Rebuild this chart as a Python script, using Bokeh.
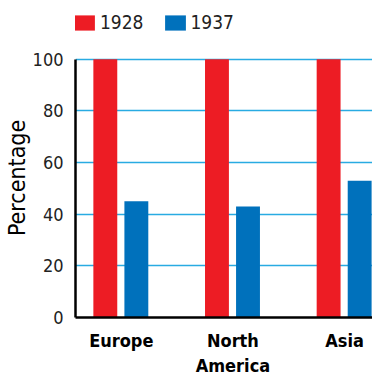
from bokeh.plotting import figure
from bokeh.models import ColumnDataSource, Range1d, FixedTicker, Legend, LegendItem
from bokeh.transform import dodge
from bokeh.embed import file_html
from bokeh.resources import INLINE

regions = ["Europe", "North\nAmerica", "Asia"]
years = ["1928", "1937"]
pct_1928 = [100, 100, 100]
pct_1937 = [45, 43, 53]
y_ticks = [0, 20, 40, 60, 80, 100]

idx = list(range(len(regions)))
src = ColumnDataSource(dict(x=idx, a=pct_1928, b=pct_1937))

FONT = "DejaVu Sans Condensed"

p = figure(width=372, height=378, output_backend="svg", toolbar_location=None,
           x_range=Range1d(-0.41, 2.25), y_range=Range1d(0, 100 + 55 / 2.64),
           min_border_left=0, min_border_right=0, min_border_top=5, min_border_bottom=54)
p.outline_line_color = None

r1 = p.vbar(x=dodge("x", -0.143, range=p.x_range), top="a", bottom=0, width=0.214,
            source=src, fill_color="#ED1C24", line_color=None)
r2 = p.vbar(x=dodge("x", 0.135, range=p.x_range), top="b", bottom=0, width=0.214,
            source=src, fill_color="#0071BC", line_color=None)

p.xgrid.visible = False
p.ygrid.grid_line_color = "#29ABE2"
p.ygrid.grid_line_width = 1.5
p.ygrid.ticker = FixedTicker(ticks=y_ticks)

p.yaxis.ticker = FixedTicker(ticks=y_ticks)
p.yaxis.bounds = (0, 100)
p.yaxis.axis_label = "Percentage" + "\u00a0" * 5
p.yaxis.axis_label_text_font = FONT
p.yaxis.axis_label_text_font_style = "normal"
p.yaxis.axis_label_text_font_size = "23px"
p.yaxis.axis_label_text_color = "black"
p.yaxis.axis_label_standoff = 0
p.yaxis.major_label_text_font = FONT
p.yaxis.major_label_text_font_size = "18px"
p.yaxis.major_label_text_color = "#222222"
p.yaxis.major_label_standoff = 6
p.yaxis.major_tick_line_color = None
p.yaxis.minor_tick_line_color = None
p.yaxis.axis_line_width = 2.5
p.yaxis.axis_line_color = "black"

p.xaxis.ticker = FixedTicker(ticks=idx)
p.xaxis.major_label_overrides = {i: r for i, r in zip(idx, regions)}
p.xaxis.major_label_text_font = FONT
p.xaxis.major_label_text_font_style = "bold"
p.xaxis.major_label_text_font_size = "18px"
p.xaxis.major_label_text_color = "black"
p.xaxis.major_label_standoff = 6
p.xaxis.major_tick_line_color = None
p.xaxis.minor_tick_line_color = None
p.xaxis.axis_line_width = 2.5
p.xaxis.axis_line_color = "black"

legend = Legend(items=[LegendItem(label=years[0], renderers=[r1]),
                       LegendItem(label=years[1], renderers=[r2])],
                orientation="horizontal", location=(-4, 284),
                glyph_width=26, glyph_height=19, label_standoff=3, spacing=18,
                padding=0, margin=0, border_line_color=None,
                background_fill_alpha=0,
                label_text_font=FONT, label_text_font_size="19px",
                label_text_color="#222222")
p.add_layout(legend, "center")

open("out.html", "w").write(file_html(p, INLINE))
